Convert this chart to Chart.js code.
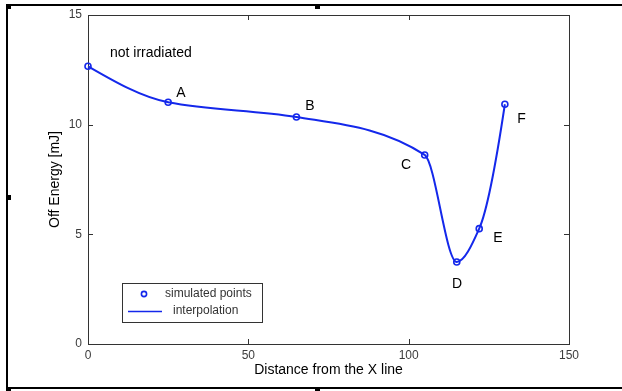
<!DOCTYPE html>
<html>
<head>
<meta charset="utf-8">
<script src="https://cdn.jsdelivr.net/npm/chart.js@4/dist/chart.umd.min.js"></script>
<style>
  html, body { margin: 0; padding: 0; background: #fff; }
  #wrap { width: 622px; height: 391px; position: relative; }
</style>
</head>
<body>
<div id="wrap"><canvas id="offEnergyChart" width="622" height="391"></canvas></div>
<script>
// valores
const distancias = [0, 25, 65, 105, 115, 122, 130];
const energiaOff = [12.66, 11.02, 10.35, 8.62, 3.74, 5.26, 10.93];
const ticksX = [0, 50, 100, 150];
const ticksY = [0, 5, 10, 15];
const rotulos = ['not irradiated', 'A', 'B', 'C', 'D', 'E', 'F'];
const rotulosX = [19.6, 29.0, 69.2, 99.2, 115.1, 127.8, 135.2];
const rotulosY = [13.27, 11.45, 10.85, 8.16, 2.74, 4.83, 10.26];

const azul = 'rgb(20, 40, 235)';
const fonte = '"Liberation Sans", Arial, sans-serif';

const pontos = distancias.map((d, i) => ({ x: d, y: energiaOff[i] }));

// derivadas tipo pchip (como o interp1 do MATLAB)
function derivadasPchip(xs, ys) {
    const n = xs.length;
    const h = [], del = [];
    for (let i = 0; i < n - 1; i++) {
        h.push(xs[i + 1] - xs[i]);
        del.push((ys[i + 1] - ys[i]) / h[i]);
    }
    const d = new Array(n).fill(0);
    for (let k = 1; k < n - 1; k++) {
        if (del[k - 1] * del[k] > 0) {
            const w1 = 2 * h[k] + h[k - 1];
            const w2 = h[k] + 2 * h[k - 1];
            d[k] = (w1 + w2) / (w1 / del[k - 1] + w2 / del[k]);
        }
    }
    const ponta = (h0, h1, d0, d1) => {
        let v = ((2 * h0 + h1) * d0 - h0 * d1) / (h0 + h1);
        if (Math.sign(v) !== Math.sign(d0)) v = 0;
        else if (Math.sign(d0) !== Math.sign(d1) && Math.abs(v) > Math.abs(3 * d0)) v = 3 * d0;
        return v;
    };
    d[0] = ponta(h[0], h[1], del[0], del[1]);
    d[n - 1] = ponta(h[n - 2], h[n - 3], del[n - 2], del[n - 3]);
    return d;
}

// troca os pontos de controle da linha pelos do pchip
const curvaPchip = {
    id: 'curvaPchip',
    beforeDatasetDraw(chart, args) {
        if (args.index !== 0) return;
        const meta = args.meta;
        const sx = chart.scales.x, sy = chart.scales.y;
        meta.dataset.updateControlPoints(chart.chartArea, 'x');
        const d = derivadasPchip(distancias, energiaOff);
        const els = meta.data;
        for (let i = 0; i < els.length; i++) {
            const x = distancias[i], y = energiaOff[i];
            if (i > 0) {
                const hp = (x - distancias[i - 1]) / 3;
                els[i].cp1x = sx.getPixelForValue(x - hp);
                els[i].cp1y = sy.getPixelForValue(y - d[i] * hp);
            }
            if (i < els.length - 1) {
                const hn = (distancias[i + 1] - x) / 3;
                els[i].cp2x = sx.getPixelForValue(x + hn);
                els[i].cp2y = sy.getPixelForValue(y + d[i] * hn);
            }
        }
    }
};

// moldura, caixa do gráfico, marcas, rótulos e legenda
const desenhoExtra = {
    id: 'desenhoExtra',
    beforeDraw(chart) {
        const ctx = chart.ctx;
        ctx.save();
        ctx.fillStyle = '#fff';
        ctx.fillRect(0, 0, chart.width, chart.height);
        ctx.strokeStyle = '#000';
        ctx.lineWidth = 2;
        ctx.beginPath();
        ctx.moveTo(chart.width, 5); ctx.lineTo(7, 5); ctx.lineTo(7, 388); ctx.lineTo(chart.width, 388);
        ctx.stroke();
        ctx.fillStyle = '#000';
        [[7, 5], [316, 5], [7, 196], [7, 388], [316, 388]].forEach(([hx, hy]) => {
            ctx.fillRect(hx - 1, hy - 1, 5, 5);
        });
        ctx.restore();
    },
    beforeDatasetsDraw(chart) {
        const ctx = chart.ctx;
        const a = chart.chartArea;
        const sx = chart.scales.x, sy = chart.scales.y;
        ctx.save();
        ctx.strokeStyle = '#333';
        ctx.lineWidth = 1;
        ctx.strokeRect(a.left + 0.5, a.top + 0.5, a.right - a.left, a.bottom - a.top);
        ctx.beginPath();
        ticksX.forEach(t => {
            const px = Math.round(sx.getPixelForValue(t)) + 0.5;
            ctx.moveTo(px, a.bottom); ctx.lineTo(px, a.bottom - 5);
            ctx.moveTo(px, a.top); ctx.lineTo(px, a.top + 5);
        });
        ticksY.forEach(t => {
            const py = Math.round(sy.getPixelForValue(t)) + 0.5;
            ctx.moveTo(a.left, py); ctx.lineTo(a.left + 5, py);
            ctx.moveTo(a.right, py); ctx.lineTo(a.right - 5, py);
        });
        ctx.stroke();
        ctx.restore();
    },
    afterDraw(chart) {
        const ctx = chart.ctx;
        const a = chart.chartArea;
        const sx = chart.scales.x, sy = chart.scales.y;
        ctx.save();
        ctx.fillStyle = '#000';
        ctx.font = '14px ' + fonte;
        ctx.textAlign = 'center';
        ctx.textBaseline = 'middle';
        rotulos.forEach((r, i) => {
            ctx.fillText(r, sx.getPixelForValue(rotulosX[i]), sy.getPixelForValue(rotulosY[i]));
        });

        // legenda
        const lx = a.left + 34, ly = a.bottom - 61;
        ctx.fillStyle = '#fff';
        ctx.fillRect(lx, ly, 140, 39);
        ctx.strokeStyle = '#333';
        ctx.lineWidth = 1;
        ctx.strokeRect(lx + 0.5, ly + 0.5, 140, 39);
        ctx.strokeStyle = azul;
        ctx.lineWidth = 1.6;
        ctx.beginPath();
        ctx.arc(lx + 22, ly + 11, 2.6, 0, Math.PI * 2);
        ctx.stroke();
        ctx.lineWidth = 1.5;
        ctx.beginPath();
        ctx.moveTo(lx + 6, ly + 28.5); ctx.lineTo(lx + 40, ly + 28.5);
        ctx.stroke();
        ctx.fillStyle = '#333';
        ctx.font = '12px ' + fonte;
        ctx.textAlign = 'left';
        ctx.fillText('simulated points', lx + 43, ly + 11);
        ctx.fillText('interpolation', lx + 51, ly + 28);
        ctx.restore();
    }
};

const ctx = document.getElementById('offEnergyChart').getContext('2d');
new Chart(ctx, {
    type: 'line',
    data: {
        datasets: [{
            label: 'interpolation',
            data: pontos,
            borderColor: azul,
            borderWidth: 2,
            pointRadius: 0,
            cubicInterpolationMode: 'monotone',
            fill: false,
            clip: false
        }, {
            label: 'simulated points',
            data: pontos,
            showLine: false,
            borderColor: azul,
            backgroundColor: 'rgba(0,0,0,0)',
            pointRadius: 3,
            pointBorderWidth: 1.6,
            clip: false
        }]
    },
    options: {
        responsive: false,
        animation: false,
        events: [],
        layout: { padding: { left: 0, right: 53, top: 15, bottom: 0 } },
        plugins: { legend: { display: false }, tooltip: { enabled: false } },
        scales: {
            x: {
                type: 'linear',
                min: 0, max: 150,
                afterBuildTicks: s => { s.ticks = ticksX.map(v => ({ value: v })); },
                afterFit: s => { s.height = 47; },
                grid: { display: false, drawTicks: false },
                border: { display: false },
                ticks: { padding: 4, color: '#3c3c3c', font: { family: fonte, size: 12 } },
                title: {
                    display: true,
                    text: 'Distance from the X line',
                    color: '#000',
                    font: { family: fonte, size: 14 },
                    padding: { top: 0, bottom: 12 }
                }
            },
            y: {
                min: 0, max: 15,
                afterBuildTicks: s => { s.ticks = ticksY.map(v => ({ value: v })); },
                afterFit: s => { s.width = 88; },
                grid: { display: false, drawTicks: false },
                border: { display: false },
                ticks: { padding: 6, color: '#3c3c3c', font: { family: fonte, size: 12 } },
                title: {
                    display: true,
                    text: 'Off Energy [mJ]',
                    color: '#000',
                    font: { family: fonte, size: 14 },
                    padding: { top: 47, bottom: 0 }
                }
            }
        }
    },
    plugins: [curvaPchip, desenhoExtra]
});
</script>
</body>
</html>
